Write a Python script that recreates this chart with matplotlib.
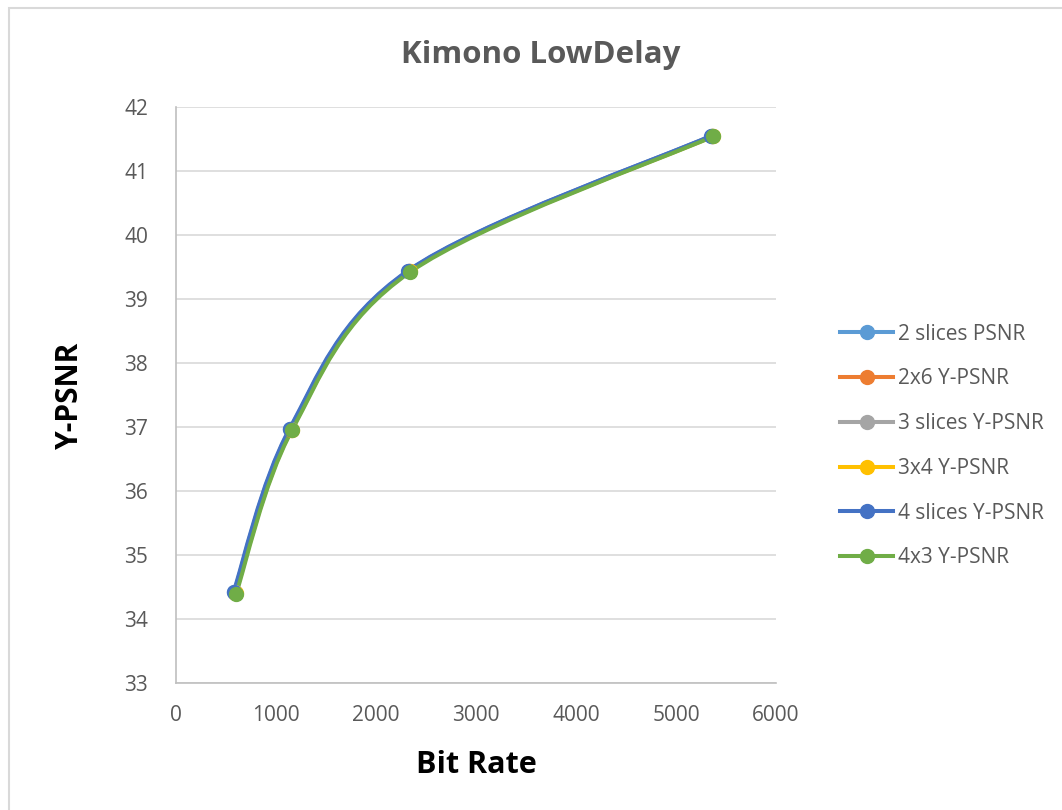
import matplotlib
matplotlib.use("Agg")
import matplotlib.pyplot as plt
from matplotlib.path import Path
from matplotlib.patches import PathPatch, Rectangle
from matplotlib.lines import Line2D

plt.rcParams["font.family"] = ["Open Sans", "DejaVu Sans"]

TITLE = "Kimono LowDelay"
X_LABEL = "Bit Rate"
Y_LABEL = "Y-PSNR"

SERIES_NAMES = ["2 slices PSNR", "2x6 Y-PSNR", "3 slices Y-PSNR",
                "3x4 Y-PSNR", "4 slices Y-PSNR", "4x3 Y-PSNR"]
SERIES_COLORS = ["#5B9BD5", "#ED7D31", "#A5A5A5", "#FFC000", "#4472C4", "#70AD47"]

# bit rate / Y-PSNR per series (all curves nearly overlap)
rate_2slices = [580, 1140, 2325, 5355]
psnr_2slices = [34.42, 36.97, 39.44, 41.55]
rate_2x6 = [590, 1150, 2330, 5360]
psnr_2x6 = [34.41, 36.96, 39.43, 41.54]
rate_3slices = [585, 1145, 2330, 5355]
psnr_3slices = [34.42, 36.97, 39.44, 41.55]
rate_3x4 = [595, 1155, 2335, 5365]
psnr_3x4 = [34.40, 36.95, 39.43, 41.54]
rate_4slices = [575, 1135, 2318, 5350]
psnr_4slices = [34.42, 36.97, 39.44, 41.55]
rate_4x3 = [600, 1160, 2340, 5370]
psnr_4x3 = [34.39, 36.95, 39.42, 41.54]

RATES = [rate_2slices, rate_2x6, rate_3slices, rate_3x4, rate_4slices, rate_4x3]
PSNRS = [psnr_2slices, psnr_2x6, psnr_3slices, psnr_3x4, psnr_4slices, psnr_4x3]

X_TICKS = [0, 1000, 2000, 3000, 4000, 5000, 6000]
Y_TICKS = [33, 34, 35, 36, 37, 38, 39, 40, 41, 42]


def smooth_path(xs, ys):
    # Excel-style smoothed line: cubic bezier through the points
    pts = list(zip(xs, ys))
    verts = [pts[0]]
    codes = [Path.MOVETO]
    n = len(pts)
    for i in range(n - 1):
        p0 = pts[i - 1] if i > 0 else pts[i]
        p1 = pts[i]
        p2 = pts[i + 1]
        p3 = pts[i + 2] if i + 2 < n else pts[i + 1]
        c1 = (p1[0] + (p2[0] - p0[0]) / 6, p1[1] + (p2[1] - p0[1]) / 6)
        c2 = (p2[0] - (p3[0] - p1[0]) / 6, p2[1] - (p3[1] - p1[1]) / 6)
        verts += [c1, c2, p2]
        codes += [Path.CURVE4] * 3
    return Path(verts, codes)


fig = plt.figure(figsize=(10.62, 8.10), dpi=100)
fig.patches.append(Rectangle((9 / 1062, -0.1), 1.2, (810 - 8) / 810 + 0.1,
                             transform=fig.transFigure, fill=False,
                             edgecolor="#D9D9D9", linewidth=1.5))

ax = fig.add_axes([176 / 1062, 1 - 683 / 810, 600 / 1062, 576 / 810])

for xs, ys, color in zip(RATES, PSNRS, SERIES_COLORS):
    ax.add_patch(PathPatch(smooth_path(xs, ys), facecolor="none", edgecolor=color,
                           linewidth=2.9, capstyle="round", zorder=3))
    ax.plot(xs, ys, "o", color=color, markersize=10, zorder=4)

ax.set_xlim(0, 6000)
ax.set_ylim(33, 42)
ax.set_xticks(X_TICKS)
ax.set_yticks(Y_TICKS)
ax.grid(axis="y", color="#D9D9D9", linewidth=1.2)
ax.set_axisbelow(True)
for side in ["top", "right"]:
    ax.spines[side].set_visible(False)
for side in ["left", "bottom"]:
    ax.spines[side].set_color("#BFBFBF")
    ax.spines[side].set_linewidth(1.2)
ax.tick_params(length=0, labelsize=15, labelcolor="#595959")
ax.tick_params(axis="x", pad=16)
ax.tick_params(axis="y", pad=20)

ax.set_xlabel(X_LABEL, fontsize=22, fontweight="bold", labelpad=17)
ax.set_ylabel(Y_LABEL, fontsize=21.5, fontweight="bold", labelpad=28)
fig.text(541 / 1062, 1 - 55 / 810, TITLE, ha="center", va="center",
         fontsize=22.5, fontweight="bold", color="#595959")

handles = [Line2D([], [], color=c, linewidth=2.9, marker="o", markersize=10)
           for c in SERIES_COLORS]
leg = fig.legend(handles, SERIES_NAMES, loc="center left",
                 bbox_to_anchor=(840 / 1062, 1 - 446 / 810), frameon=False,
                 fontsize=15, labelspacing=1.14, handlelength=2.55,
                 handletextpad=0.25, borderpad=0, borderaxespad=0)
for t in leg.get_texts():
    t.set_color("#595959")

fig.savefig("out.png", dpi=100)
